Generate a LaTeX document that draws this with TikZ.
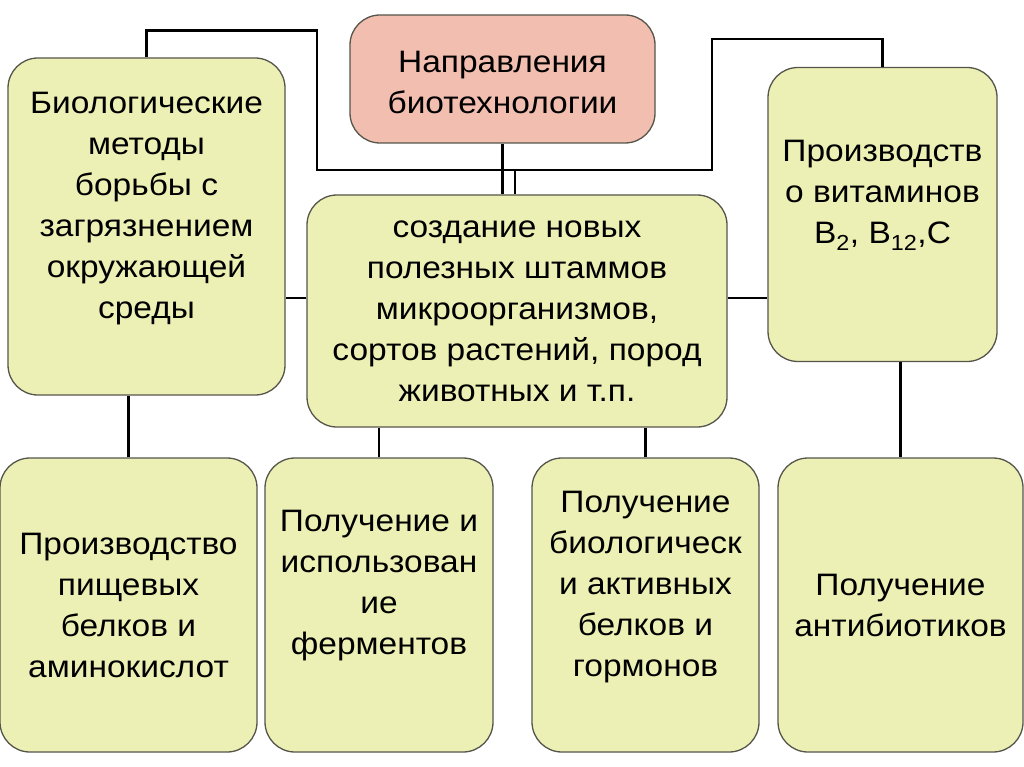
\documentclass[tikz,border=0pt]{standalone}
\usepackage{fontspec}
\setmainfont[FakeStretch=1.08]{Liberation Sans}
\definecolor{boxfill}{RGB}{237,240,180}
\definecolor{topfill}{RGB}{242,190,176}
\definecolor{boxline}{RGB}{85,85,75}
\begin{document}
\begin{tikzpicture}[x=1pt,y=-1pt,
  box/.style={draw=boxline,line width=1.3pt,fill=boxfill,rounded corners=30pt,inner sep=0pt},
  txt/.style={align=center,font=\fontsize{31}{41}\selectfont,inner sep=0pt},
  link/.style={line width=2.6pt}]
\useasboundingbox (0,0) rectangle (1024,767);

% boxes
\node[box,fill=topfill,minimum width=305pt,minimum height=128pt] (napr) at (502.5,79) {};
\node[box,minimum width=277pt,minimum height=337pt] (lmeth) at (146.5,226.5) {};
\node[box,minimum width=420pt,minimum height=232pt] (cent) at (517,311) {};
\node[box,minimum width=229pt,minimum height=294pt] (vit) at (882.5,214.5) {};
\node[box,minimum width=257pt,minimum height=294pt] (prot) at (128.5,605) {};
\node[box,minimum width=228pt,minimum height=294pt] (ferm) at (379,605) {};
\node[box,minimum width=227pt,minimum height=294pt] (horm) at (645.5,605) {};
\node[box,minimum width=245pt,minimum height=294pt] (anti) at (900.5,605) {};

% texts
\node[txt] (napr-t) at ([yshift=-3pt]napr.center) {Направления\\биотехнологии};
\node[txt] (lmeth-t) at ([yshift=18pt]lmeth.center) {Биологические\\методы\\борьбы с\\загрязнением\\окружающей\\среды};
\node[txt] (cent-t) at (cent.center) {создание новых\\полезных штаммов\\микроорганизмов,\\сортов растений, пород\\животных и т.п.};
\node[txt] (vit-t) at ([yshift=19pt]vit.center) {Производств\\о витаминов\\В\textsubscript{2}, В\textsubscript{12},С};
\node[txt] (prot-t) at (prot.center) {Производство\\пищевых\\белков и\\аминокислот};
\node[txt] (ferm-t) at ([yshift=19pt]ferm.center) {Получение и\\использован\\ие\\ферментов};
\node[txt] (horm-t) at ([yshift=18pt]horm.center) {Получение\\биологическ\\и активных\\белков и\\гормонов};
\node[txt] (anti-t) at (anti.center) {Получение\\антибиотиков};

% connectors
\coordinate (hub) at (515,170);
\draw[link] (napr.south) -- (napr.south |- cent.north);
\draw[link] (hub) -- (hub |- cent.north);
\draw[link] (lmeth.north) -- ++(0,-27) -| (317,170) -- (hub);
\draw[link] (vit.north) -- ++(0,-28) -| (712,170) -- (hub);
\draw[link] ([yshift=13pt]cent.west) -- ([yshift=13pt]cent.west -| lmeth.east);
\draw[link] ([yshift=13pt]cent.east) -- ([yshift=13pt]cent.east -| vit.west);
\draw[link] (prot.north) -- (prot.north |- lmeth.south);
\draw[link] (ferm.north) -- (ferm.north |- cent.south);
\draw[link] (horm.north) -- (horm.north |- cent.south);
\draw[link] (anti.north) -- (anti.north |- vit.south);
\end{tikzpicture}
\end{document}
